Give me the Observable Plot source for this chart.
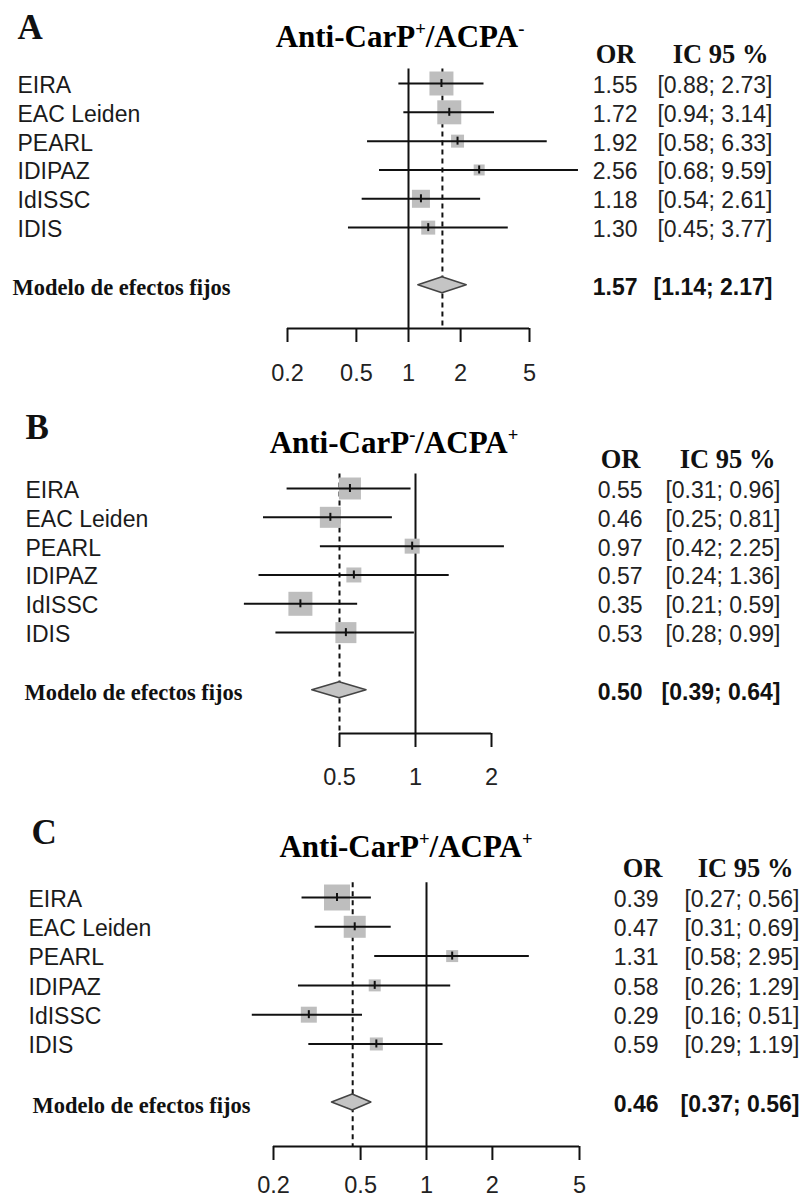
<!DOCTYPE html>
<html>
<head>
<meta charset="utf-8">
<script src="https://cdn.jsdelivr.net/npm/d3@7"></script>
<script src="https://cdn.jsdelivr.net/npm/@observablehq/plot@0.6"></script>
<style>
  body { margin: 0; background: #fff; }
  #wrap { position: relative; width: 800px; height: 1201px; overflow: hidden; background: #fff; }
  .panel { position: absolute; left: 0; width: 800px; }
  .title { position: absolute; font-family: "Liberation Serif", "Times New Roman", serif; font-weight: bold;
           font-size: 31px; line-height: 31px; white-space: nowrap; transform: translateX(-50%); color: #000; }
  .title sup { font-size: 0.6em; vertical-align: 0.62em; line-height: 0; }
</style>
</head>
<body>
<div id="wrap"></div>
<script>
// ---------- data ----------
const studies = ["EIRA", "EAC Leiden", "PEARL", "IDIPAZ", "IdISSC", "IDIS"];

// Panel A: Anti-CarP+/ACPA-
const orA = [1.55, 1.72, 1.92, 2.56, 1.18, 1.30];
const loA = [0.88, 0.94, 0.58, 0.68, 0.54, 0.45];
const hiA = [2.73, 3.14, 6.33, 9.59, 2.61, 3.77];
const weightA = [30, 30, 8.8, 6.3, 16.9, 10.2];
const pooledA = [1.57, 1.14, 2.17];

// Panel B: Anti-CarP-/ACPA+
const orB = [0.55, 0.46, 0.97, 0.57, 0.35, 0.53];
const loB = [0.31, 0.25, 0.42, 0.24, 0.21, 0.28];
const hiB = [0.96, 0.81, 2.25, 1.36, 0.59, 0.99];
const weightB = [25.2, 23.0, 11.7, 11.7, 30.0, 23.0];
const pooledB = [0.50, 0.39, 0.64];

// Panel C: Anti-CarP+/ACPA+
const orC = [0.39, 0.47, 1.31, 0.58, 0.29, 0.59];
const loC = [0.27, 0.31, 0.58, 0.26, 0.16, 0.29];
const hiC = [0.56, 0.69, 2.95, 1.29, 0.51, 1.19];
const weightC = [35.2, 25.2, 7.5, 7.5, 13.3, 8.8];
const pooledC = [0.46, 0.37, 0.56];

const panelLetters = ["A", "B", "C"];
const titleSupCarP = ["+", "-", "+"];
const titleSupACPA = ["-", "+", "+"];
const pooledLabel = "Modelo de efectos fijos";
const headerOR = "OR";
const headerCI = "IC 95 %";

const ticksA = [0.2, 0.5, 1, 2, 5];
const tickLabelsA = ["0.2", "0.5", "1", "2", "5"];
const ticksB = [0.5, 1, 2];
const tickLabelsB = ["0.5", "1", "2"];
const ticksC = [0.2, 0.5, 1, 2, 5];
const tickLabelsC = ["0.2", "0.5", "1", "2", "5"];

// ---------- layout (styles / positions) ----------
const layout = [
  {top: 0,   height: 400, row0: 83, axisY: 328, xRange: [287, 529], labelX: 17, modelX: 12, orEnd: 637, ciEnd: 772, hOrEnd: 635, hCiEnd: 768, titleX: 400, titleTop: 21, letterX: 17, letterDy: 13.5, tickDy: 36},
  {top: 400, height: 400, row0: 88, axisY: 333, xRange: [339, 491], labelX: 25, modelX: 24, orEnd: 642, ciEnd: 780, hOrEnd: 640, hCiEnd: 775, titleX: 394, titleTop: 27, letterX: 25, letterDy: 13.5, tickDy: 35},
  {top: 800, height: 401, row0: 97, axisY: 346, xRange: [273, 579], labelX: 28, modelX: 32, orEnd: 658, ciEnd: 799, hOrEnd: 662, hCiEnd: 793, titleX: 406, titleTop: 31, letterX: 31, letterDy: 18.5, tickDy: 30}
];

const panels = [
  {or: orA, lo: loA, hi: hiA, w: weightA, pooled: pooledA, ticks: ticksA, labels: tickLabelsA},
  {or: orB, lo: loB, hi: hiB, w: weightB, pooled: pooledB, ticks: ticksB, labels: tickLabelsB},
  {or: orC, lo: loC, hi: hiC, w: weightC, pooled: pooledC, ticks: ticksC, labels: tickLabelsC}
];

const SERIF = '"Liberation Serif", "Times New Roman", serif';
const SANS = '"Liberation Sans", Arial, sans-serif';
const f2 = d3.format(".2f");
const wrap = document.getElementById("wrap");

panels.forEach((P, k) => {
  const L = layout[k];
  const W = 800;
  const rows = studies.map((s, i) => ({study: s, row: i, or: P.or[i], lo: P.lo[i], hi: P.hi[i], w: P.w[i]}));
  const pRow = studies.length + 1;
  const axisRow = studies.length + 2.5;
  const step = (L.axisY - L.row0) / axisRow;
  const h = 8 / step;
  const pooled = {row: pRow, or: P.pooled[0], lo: P.pooled[1], hi: P.pooled[2]};
  const diamond = [
    {x: pooled.lo, top: pRow, bottom: pRow},
    {x: pooled.or, top: pRow - h, bottom: pRow + h},
    {x: pooled.hi, top: pRow, bottom: pRow}
  ];
  const tickData = P.ticks.map((t, i) => ({t, label: P.labels[i]}));
  const xMin = P.ticks[0], xMax = P.ticks[P.ticks.length - 1];
  const mL = L.labelX, mR = W - L.ciEnd;

  const chart = Plot.plot({
    width: W,
    height: L.height,
    marginLeft: mL, marginRight: mR, marginTop: 0,
    marginBottom: L.height - L.axisY,
    x: {type: "log", domain: [xMin, xMax], range: L.xRange, axis: null},
    y: {domain: [0, axisRow], range: [L.row0, L.axisY], axis: null},
    r: {type: "sqrt", domain: [0, 30], range: [0, 24 / Math.sqrt(Math.PI)]},
    style: {fontFamily: SANS, fontSize: "23px", color: "#111", background: "white", overflow: "visible"},
    marks: [
      // reference lines
      Plot.ruleX([1], {y1: -0.5, y2: axisRow, stroke: "#111", strokeWidth: 2}),
      Plot.ruleX([pooled.or], {y1: -0.5, y2: axisRow, stroke: "#111", strokeWidth: 2, strokeDasharray: "5,4"}),
      // study boxes, CIs and point ticks
      Plot.dot(rows, {x: "or", y: "row", r: "w", symbol: "square", fill: "#bebebe", stroke: null}),
      Plot.ruleY(rows, {y: "row", x1: "lo", x2: "hi", stroke: "#111", strokeWidth: 2}),
      Plot.ruleX(rows, {x: "or", y1: "row", y2: "row", insetTop: -4, insetBottom: -4, stroke: "#111", strokeWidth: 2}),
      // pooled diamond
      Plot.area(diamond, {x1: "x", y1: "top", y2: "bottom", fill: "#c4c4c4", stroke: "#444", strokeWidth: 1.5}),
      // x axis: line, ticks, labels
      Plot.ruleY([axisRow], {x1: xMin, x2: xMax, stroke: "#111", strokeWidth: 2}),
      Plot.ruleX(tickData, {x: "t", y1: axisRow, y2: axisRow, insetTop: 0, insetBottom: -14, stroke: "#111", strokeWidth: 2}),
      Plot.text(tickData, {x: "t", y: axisRow, text: "label", lineAnchor: "top", dy: L.tickDy,
        fontSize: 23.5, fill: "#222", fontFamily: SANS}),
      // study labels
      Plot.text(rows, {y: "row", text: "study", frameAnchor: "left", dy: 2,
        textAnchor: "start", fontSize: 23, fill: "#1a1a1a", fontFamily: SANS}),
      // OR values
      Plot.text(rows, {y: "row", text: d => f2(d.or), frameAnchor: "right", dx: L.orEnd - L.ciEnd, dy: 2,
        textAnchor: "end", fontSize: 23, fill: "#222", fontFamily: SANS}),
      // CI values
      Plot.text(rows, {y: "row", text: d => `[${f2(d.lo)}; ${f2(d.hi)}]`, frameAnchor: "right", dy: 2,
        textAnchor: "end", fontSize: 23, fill: "#222", fontFamily: SANS}),
      // pooled row
      Plot.text([pooled], {y: "row", text: d => f2(d.or), frameAnchor: "right", dx: L.orEnd - L.ciEnd, dy: 2,
        textAnchor: "end", fontSize: 23, fontWeight: "bold", fill: "#111", fontFamily: SANS}),
      Plot.text([pooled], {y: "row", text: d => `[${f2(d.lo)}; ${f2(d.hi)}]`, frameAnchor: "right", dy: 2,
        textAnchor: "end", fontSize: 23, fontWeight: "bold", fill: "#111", fontFamily: SANS}),
      Plot.text([pooled], {y: "row", text: () => pooledLabel, frameAnchor: "left", dx: L.modelX - L.labelX, dy: 3,
        textAnchor: "start", fontSize: 22.5, fontWeight: "bold", fill: "#111", fontFamily: SERIF}),
      // headers
      Plot.text([headerOR], {y: -1, text: d => d, frameAnchor: "right", dx: L.hOrEnd - L.ciEnd, textAnchor: "end",
        fontSize: 26.5, fontWeight: "bold", fill: "#111", fontFamily: SERIF}),
      Plot.text([headerCI], {y: -1, text: d => d, frameAnchor: "right", dx: L.hCiEnd - L.ciEnd, textAnchor: "end",
        fontSize: 26.5, fontWeight: "bold", fill: "#111", fontFamily: SERIF}),
      // panel letter
      Plot.text([panelLetters[k]], {text: d => d, frameAnchor: "top-left", dx: L.letterX - L.labelX, dy: L.letterDy,
        lineAnchor: "top", textAnchor: "start", fontSize: 35, fontWeight: "bold", fill: "#111", fontFamily: SERIF})
    ]
  });

  const div = document.createElement("div");
  div.className = "panel";
  div.style.top = L.top + "px";
  div.style.height = L.height + "px";
  div.appendChild(chart);
  wrap.appendChild(div);

  const t = document.createElement("div");
  t.className = "title";
  t.style.left = L.titleX + "px";
  t.style.top = (L.top + L.titleTop) + "px";
  t.innerHTML = `Anti-CarP<sup>${titleSupCarP[k]}</sup>/ACPA<sup>${titleSupACPA[k]}</sup>`;
  wrap.appendChild(t);
});
</script>
</body>
</html>
